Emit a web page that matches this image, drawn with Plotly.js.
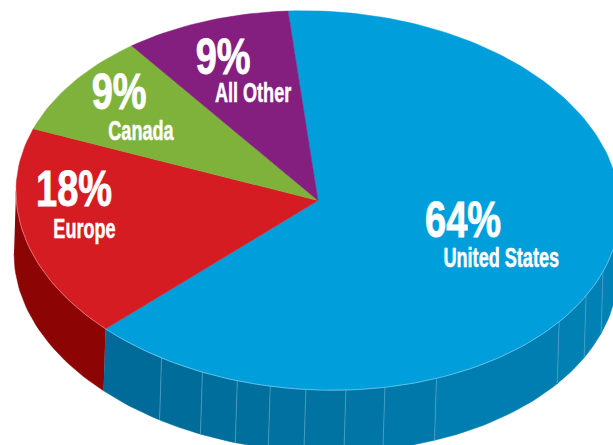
<!DOCTYPE html>
<html><head><meta charset="utf-8">
<script src="https://cdn.plot.ly/plotly-3.0.1.min.js"></script>
<style>html,body{margin:0;padding:0;background:#fff}#c{width:613px;height:445px}</style>
</head><body><div id="c"></div>
<script>
const categories = ['United States','Europe','Canada','All Other'];
const shares = [64,18,9,9];
const topColors = ['#009fdb','#d51c22','#7fb23a','#841f7f'];
const rimColors = ['#7fcdec','#ea8d90','#7fb23a','#841f7f'];
const labelCentres = [[463,220,501,258],[74,189,84,229],[119,92,141,131],[223,57,253,93]];
const startAngle = -5.7;
const cx=318, cy=200.5, rx=302, ry=189.5, shear=9, depthX=-2, depthY=62;
const facetAngles = [211.2,202.5,195.5,189.1,182.3,174.7,167.2,156.9,127,117.4,109.3,90];
const facetColors = ['#006b98','#006c9a','#006e9c','#006f9e','#0071a0','#0073a3','#0075a6','#0078aa','#007eb1','#0080b3','#0081b5','#0082b6'];
const redWall = '#8c0404';
const facetLine = '#4f9fbf';

function pt(a,off){
  const t=a*Math.PI/180, s=Math.sin(t), c=Math.cos(t);
  const d=off?1:0;
  return [cx+rx*s+d*depthX, cy-ry*c+shear*s+d*depthY];
}
function arc(a0,a1,off){
  const n=Math.max(2,Math.ceil(Math.abs(a1-a0)/1.5)), xs=[], ys=[];
  for(let i=0;i<=n;i++){const p=pt(a0+(a1-a0)*i/n,off);xs.push(p[0]);ys.push(p[1]);}
  return [xs,ys];
}
function wall(a0,a1,color){
  const A=arc(a0,a1,false), B=arc(a1,a0,true);
  return {type:'scatter',mode:'lines',x:A[0].concat(B[0]),y:A[1].concat(B[1]),fill:'toself',fillcolor:color,
    line:{color:color,width:0.5},hoverinfo:'skip',showlegend:false};
}
const junction = startAngle + shares[0]*3.6;
const edges = [junction].concat(facetAngles);
const traces=[];
traces.push(wall(270,junction,redWall));
for(let i=0;i<facetColors.length;i++) traces.push(wall(edges[i],edges[i+1],facetColors[i]));
for(let i=1;i<edges.length-1;i++){
  const a=pt(edges[i],false), b=pt(edges[i],true);
  traces.push({type:'scatter',mode:'lines',x:[a[0],b[0]],y:[a[1],b[1]],line:{color:facetLine,width:0.8},hoverinfo:'skip',showlegend:false});
}
let ang=startAngle; const bounds=[];
shares.forEach((v,i)=>{
  const a0=ang, a1=ang+v*3.6; ang=a1; bounds.push([a0,a1]);
  const A=arc(a0,a1,false);
  traces.push({type:'scatter',mode:'lines',name:categories[i],x:[cx].concat(A[0],[cx]),y:[cy].concat(A[1],[cy]),
    fill:'toself',fillcolor:topColors[i],line:{color:topColors[i],width:0.5},hoverinfo:'name',showlegend:false});
});
shares.forEach((v,i)=>{
  const lo=Math.max(bounds[i][0],90), hi=Math.min(bounds[i][1],270);
  if(hi>lo){const A=arc(lo,hi,false);
    traces.push({type:'scatter',mode:'lines',x:A[0],y:A[1],line:{color:rimColors[i],width:0.7},hoverinfo:'skip',showlegend:false});}
});
const fam='"Liberation Sans",sans-serif';
const annotations=[];
categories.forEach((c,i)=>{
  const p=labelCentres[i];
  annotations.push({x:p[0],y:p[1],xref:'x',yref:'y',text:'<b>'+shares[i]+'%</b>',showarrow:false,font:{family:fam,size:50,color:'#fff'},xanchor:'center',yanchor:'middle'});
  annotations.push({x:p[2],y:p[3],xref:'x',yref:'y',text:'<b>'+c+'</b>',showarrow:false,font:{family:fam,size:27,color:'#fff'},xanchor:'center',yanchor:'middle'});
});
Plotly.newPlot('c',traces,{
  width:613,height:445,margin:{l:0,r:0,t:0,b:0,pad:0},paper_bgcolor:'#fff',plot_bgcolor:'#fff',showlegend:false,
  xaxis:{range:[0,613],visible:false,fixedrange:true},
  yaxis:{range:[445,0],visible:false,fixedrange:true},
  annotations:annotations
},{displayModeBar:false,staticPlot:true}).then(()=>{
  // no condensed face is installed: narrow the real text elements about their own centres
  document.querySelectorAll('#c text.annotation-text').forEach(t=>{
    const b=t.getBBox(), m=b.x+b.width/2, big=/%/.test(t.textContent), s=big?0.76:0.67;
    t.setAttribute('transform','translate('+m+' 0) scale('+s+' 1) translate('+(-m)+' 0)');
    t.style.stroke='#fff';
    t.style.strokeWidth=big?'0.9px':'0.5px';
  });
});
</script></body></html>
